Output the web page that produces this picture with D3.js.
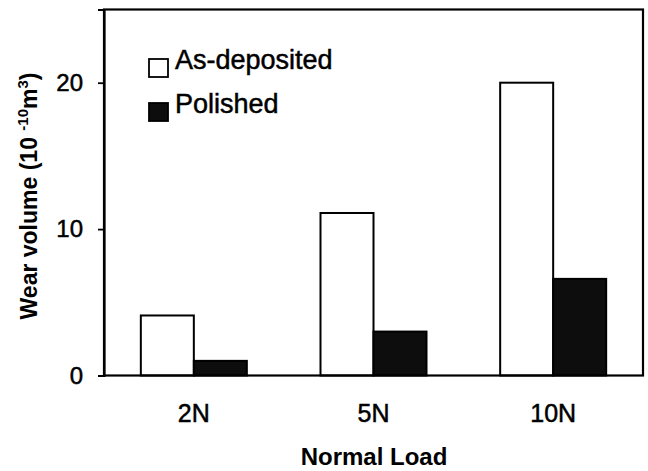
<!DOCTYPE html>
<html>
<head>
<meta charset="utf-8">
<script src="https://cdn.jsdelivr.net/npm/d3@7"></script>
<style>
  html, body { margin: 0; padding: 0; background: #fff; }
  svg { display: block; font-family: "Liberation Sans", Arial, sans-serif; }
</style>
</head>
<body>
<svg id="chart" width="648" height="471"></svg>
<script>
const categories = ["2N", "5N", "10N"];
const seriesNames = ["As-deposited", "Polished"];
const asDeposited = [4.1, 11.1, 20.0];
const polished = [1.0, 3.0, 6.6];
const yTicks = [0, 10, 20];

const W = 648, H = 471;
const margin = { left: 104, top: 9.5, right: 5, bottom: 95.5 };
const svg = d3.select("#chart");
const g = svg.append("g").attr("transform", `translate(${margin.left},${margin.top})`);
const iw = W - margin.left - margin.right;
const ih = H - margin.top - margin.bottom;

const x = d3.scaleBand().domain(categories).range([0, iw]).paddingInner(0.41).paddingOuter(0.205);
const xs = d3.scaleBand().domain(seriesNames).range([0, x.bandwidth()]);
const y = d3.scaleLinear().domain([0, 25]).range([ih, 0]);

const fills = { "As-deposited": "#ffffff", "Polished": "#0d0d0d" };
const data = categories.map((c, i) => ({ c, vals: [
  { s: "As-deposited", v: asDeposited[i] },
  { s: "Polished", v: polished[i] }
]}));

// bars
const groups = g.selectAll("g.grp").data(data).join("g")
  .attr("class", "grp")
  .attr("transform", d => `translate(${x(d.c)},0)`);
groups.selectAll("rect").data(d => d.vals).join("rect")
  .attr("x", d => xs(d.s))
  .attr("y", d => y(d.v))
  .attr("width", xs.bandwidth())
  .attr("height", d => ih - y(d.v))
  .attr("fill", d => fills[d.s])
  .attr("stroke", "#000")
  .attr("stroke-width", 2);

// frame
g.append("rect").attr("x", 0).attr("y", 0).attr("width", iw).attr("height", ih)
  .attr("fill", "none").attr("stroke", "#000").attr("stroke-width", 2.2);

const thick = sel => sel.attr("stroke", "#000").attr("stroke-width", 0.5);

// y axis
const yAxis = d3.axisLeft(y).tickValues(yTicks).tickSize(6).tickPadding(15).tickFormat(d3.format("d"));
const ya = g.append("g").call(yAxis);
ya.select(".domain").attr("stroke-width", 2.2);
ya.selectAll(".tick line").attr("stroke-width", 1.8);
ya.selectAll(".tick text").attr("font-size", 24).attr("fill", "#000")
  .attr("font-family", "'Liberation Sans', Arial, sans-serif").call(thick);

// x axis labels
const xAxis = d3.axisBottom(x).tickSize(0).tickPadding(0);
const xa = g.append("g").attr("transform", `translate(0,${ih})`).call(xAxis);
xa.select(".domain").remove();
xa.selectAll(".tick text").attr("font-size", 25).attr("fill", "#000")
  .attr("dy", null).attr("y", 46)
  .attr("font-family", "'Liberation Sans', Arial, sans-serif").call(thick);

// x title
svg.append("text").attr("x", 374).attr("y", 465).attr("text-anchor", "middle")
  .attr("font-size", 24).attr("font-weight", "bold").text("Normal Load");

// y title
const yt = svg.append("text").attr("transform", "translate(37,196) rotate(-90)")
  .attr("text-anchor", "middle").attr("font-size", 23).attr("font-weight", "bold");
yt.append("tspan").text("Wear volume (10 ");
yt.append("tspan").attr("font-size", 15).attr("dy", -9).text("-10");
yt.append("tspan").attr("dy", 9).text("m");
yt.append("tspan").attr("font-size", 15).attr("dy", -9).text("3");
yt.append("tspan").attr("dy", 9).text(")");

// legend
const leg = svg.append("g");
seriesNames.forEach((s, i) => {
  const yy = 59 + i * 44;
  leg.append("rect").attr("x", 149).attr("y", yy).attr("width", 19).attr("height", 18)
    .attr("fill", fills[s]).attr("stroke", "#000").attr("stroke-width", 1.8);
  leg.append("text").attr("x", 175).attr("y", yy + 10).attr("font-size", 27).attr("fill", "#000")
    .call(thick).text(s);
});
</script>
</body>
</html>
